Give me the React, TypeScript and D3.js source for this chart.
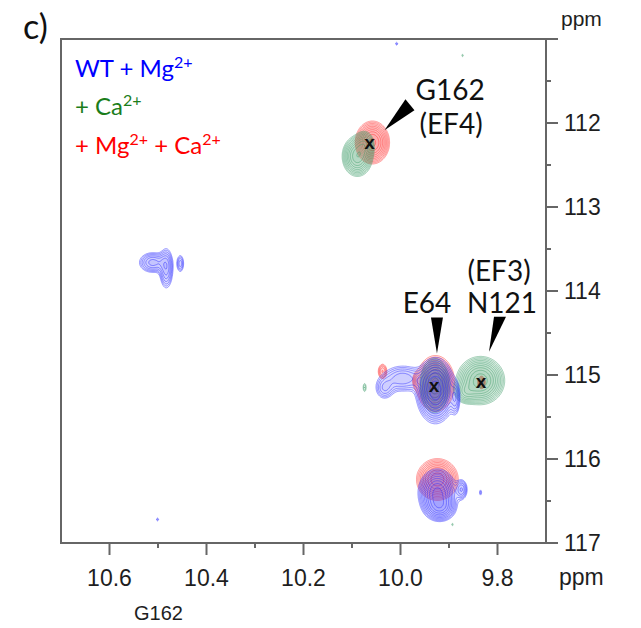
import React, { useMemo } from 'react';
import * as d3 from 'd3';

// ---- axes ----
const xDomain = [10.7, 9.7];
const yDomain = [111, 117];
const xTicks = [10.6, 10.4, 10.2, 10.0, 9.8];
const xMinorTicks = [10.5, 10.3, 10.1, 9.9];
const yTicks = [111, 112, 113, 114, 115, 116, 117];
const yTickLabels = ['', '112', '113', '114', '115', '116', '117'];
const yMinorTicks = [111.5, 112.5, 113.5, 114.5, 115.5, 116.5];

// ---- peaks: [1H ppm, 15N ppm, width 1H ppm, width 15N ppm, intensity] ----
const wtMgPeaks: number[][] = [
  [10.512, 113.655, 0.0165, 0.071, 0.35],
  [10.484, 113.726, 0.0082, 0.14, 0.35],
  [10.455, 113.667, 0.005, 0.07, 0.22],
  [9.929, 115.18, 0.0186, 0.18, 1.0],
  [9.997, 115.036, 0.025, 0.095, 0.3],
  [10.034, 115.155, 0.012, 0.083, 0.22],
  [9.888, 115.27, 0.006, 0.12, 0.25],
  [9.925, 116.393, 0.0186, 0.131, 0.9],
  [9.919, 116.571, 0.0165, 0.083, 0.5],
  [9.875, 116.357, 0.0072, 0.071, 0.3],
  [9.836, 116.393, 0.0025, 0.036, 0.13],
  [10.502, 116.714, 0.0025, 0.02, 0.13],
  [10.009, 111.05, 0.0025, 0.02, 0.13],
];
const caPeaks: number[][] = [
  [10.09, 112.39, 0.015, 0.115, 0.8],
  [10.075, 112.25, 0.0103, 0.085, 0.4],
  [9.836, 115.06, 0.0227, 0.131, 1.0],
  [9.867, 115.2, 0.0124, 0.071, 0.3],
  [9.931, 115.119, 0.0144, 0.155, 0.8],
  [10.075, 115.143, 0.003, 0.048, 0.15],
  [9.873, 111.19, 0.0022, 0.02, 0.12],
  [9.894, 116.774, 0.0022, 0.02, 0.12],
];
const mgCaPeaks: number[][] = [
  [10.059, 112.226, 0.0165, 0.119, 0.9],
  [9.929, 115.095, 0.0186, 0.155, 0.9],
  [10.038, 114.952, 0.0062, 0.06, 0.25],
  [9.966, 115.06, 0.0062, 0.06, 0.2],
  [9.834, 115.083, 0.005, 0.048, 0.3],
  [9.925, 116.238, 0.0206, 0.119, 0.8],
];

const seriesColors = ['#2a2aff', '#3c9a68', '#ff3030'];
const legendColors = ['#0000ff', '#1b7d1b', '#ff0000'];

// ---- assignments ----
const assignNames = ['G162', 'E64', 'N121'];
const assignSub = ['(EF4)', '', '(EF3)'];
const assignX = [10.064, 9.931, 9.834];
const assignY = [112.24, 115.125, 115.08];

const levels = d3.range(0, 10).map((k) => 0.09 * Math.pow(1.28, k));

const W = 641, H = 628;
const L = 61, R = 546, T = 39, B = 543;

function buildField(peaks: number[][], xs: any, ys: any, n: number, m: number) {
  const vals = new Float64Array(n * m);
  for (const [x0, y0, sx, sy, a] of peaks) {
    const cx = xs(x0), cy = ys(y0);
    const sxp = Math.abs(xs(x0 + sx) - cx);
    const syp = Math.abs(ys(y0 + sy) - cy);
    const i0 = Math.max(0, Math.floor(cx - 5 * sxp - L));
    const i1 = Math.min(n - 1, Math.ceil(cx + 5 * sxp - L));
    const j0 = Math.max(0, Math.floor(cy - 5 * syp - T));
    const j1 = Math.min(m - 1, Math.ceil(cy + 5 * syp - T));
    for (let j = j0; j <= j1; j++) {
      const dy = (T + j - cy) / syp;
      for (let i = i0; i <= i1; i++) {
        const dx = (L + i - cx) / sxp;
        vals[j * n + i] += a * Math.exp(-0.5 * (dx * dx + dy * dy));
      }
    }
  }
  return vals;
}

export default function App() {
  const xs = d3.scaleLinear().domain(xDomain).range([L, R]);
  const ys = d3.scaleLinear().domain(yDomain).range([T, B]);

  const contourSets = useMemo(() => {
    const n = R - L + 1, m = B - T + 1;
    const path = d3.geoPath(d3.geoIdentity().translate([L, T]) as any);
    return [wtMgPeaks, caPeaks, mgCaPeaks].map((p) => {
      const vals = buildField(p, xs, ys, n, m);
      const cs = d3.contours().size([n, m]).thresholds(levels)(Array.from(vals));
      return cs.map((c) => path(c as any) || '');
    });
  }, []);

  const drawOrder = [2, 1, 0];
  const font = 'Lato, "Open Sans", sans-serif';
  const axisFont = '"Liberation Sans", Arial, sans-serif';
  const axisColor = '#666';
  const labelColor = '#1e1e1e';
  const supSize = 16;
  const supShift = 9;

  const g = [xs(assignX[0]), ys(assignY[0])];
  const e = [xs(assignX[1]), ys(assignY[1])];
  const nn = [xs(assignX[2]), ys(assignY[2])];

  return (
    <svg width={W} height={H} style={{ position: 'absolute', left: 0, top: 0, background: '#fff' }}>
      <defs>
        <clipPath id="plot">
          <rect x={L} y={T} width={R - L} height={B - T} />
        </clipPath>
        <filter id="soft" x="-5%" y="-5%" width="110%" height="110%">
          <feGaussianBlur stdDeviation="0.45" />
        </filter>
      </defs>
      <rect x={0} y={0} width={W} height={H} fill="#fff" />

      {/* contours */}
      <g clipPath="url(#plot)" filter="url(#soft)">
        {drawOrder.map((si) => (
          <g key={si}>
            {contourSets[si].map((d, k) => (
              <path key={k} d={d} fill={seriesColors[si]} fillOpacity={0.05}
                stroke={seriesColors[si]} strokeOpacity={0.6} strokeWidth={0.8} />
            ))}
          </g>
        ))}
      </g>

      {/* frame */}
      <g stroke={axisColor} strokeWidth={2} fill="none">
        <line x1={L} y1={T} x2={L} y2={B + 1} />
        <line x1={L - 1} y1={B} x2={R} y2={B} />
        <line x1={L - 1} y1={T} x2={R} y2={T} />
        <line x1={R} y1={T} x2={R} y2={B} />
        {yTicks.map((t) => (
          <line key={'y' + t} x1={R} x2={R + 12} y1={ys(t)} y2={ys(t)} />
        ))}
        {yMinorTicks.map((t) => (
          <line key={'ym' + t} x1={R} x2={R + 5} y1={ys(t)} y2={ys(t)} />
        ))}
        {xTicks.map((t) => (
          <line key={'x' + t} x1={xs(t)} x2={xs(t)} y1={B} y2={B + 12} />
        ))}
        {xMinorTicks.map((t) => (
          <line key={'xm' + t} x1={xs(t)} x2={xs(t)} y1={B} y2={B + 5} />
        ))}
      </g>

      {/* tick labels */}
      <g fontFamily={axisFont} fontSize={23} fill={labelColor}>
        {yTicks.map((t, i) => (
          yTickLabels[i] ? <text key={'yl' + t} x={R + 18} y={ys(t) + 8}>{yTickLabels[i]}</text> : null
        ))}
        {xTicks.map((t) => (
          <text key={'xl' + t} x={xs(t)} y={586} textAnchor="middle">{t.toFixed(1)}</text>
        ))}
        <text x={559} y={585}>ppm</text>
        <text x={561} y={26} fontSize={21}>ppm</text>
        <text x={134} y={620} fontSize={20}>G162</text>
      </g>

      {/* panel label */}
      <text x={23} y={39} fontFamily={font} fontSize={34} fill="#111">c)</text>

      {/* legend */}
      <g fontFamily={font} fontSize={24} style={{ whiteSpace: 'pre' }}>
        <text x={75} y={77} fill={legendColors[0]}>
          <tspan>WT + Mg</tspan>
          <tspan dy={-supShift} fontSize={supSize}>2+</tspan>
        </text>
        <text x={75} y={115} fill={legendColors[1]}>
          <tspan>+ Ca</tspan>
          <tspan dy={-supShift} fontSize={supSize}>2+</tspan>
        </text>
        <text x={75} y={154} fill={legendColors[2]}>
          <tspan>+ Mg</tspan>
          <tspan dy={-supShift} fontSize={supSize}>2+</tspan>
          <tspan dy={supShift}> + Ca</tspan>
          <tspan dy={-supShift} fontSize={supSize}>2+</tspan>
        </text>
      </g>

      {/* assignment crosses */}
      {assignNames.map((name, i) => (
        <text key={'xm' + name} x={xs(assignX[i])} y={ys(assignY[i]) + 6} textAnchor="middle"
          fontFamily={axisFont} fontSize={19} fontWeight={700} fill="#111">x</text>
      ))}

      {/* assignment labels */}
      <g fontFamily={font} fontSize={28} fill="#111">
        <text x={g[0] + 46} y={g[1] - 43}>{assignNames[0]}</text>
        <text x={g[0] + 50} y={g[1] - 9}>{assignSub[0]}</text>
        <polygon points={`${g[0] + 15},${g[1] - 13} ${g[0] + 36},${g[1] - 44} ${g[0] + 45},${g[1] - 33}`} fill="#000" />
        <text x={e[0] - 7} y={e[1] - 73} textAnchor="middle">{assignNames[1]}</text>
        <polygon points={`${e[0] + 3},${e[1] - 32} ${e[0] - 3},${e[1] - 68} ${e[0] + 9},${e[1] - 68}`} fill="#000" />
        <text x={nn[0] + 21} y={nn[1] - 69} textAnchor="middle">{assignNames[2]}</text>
        <text x={nn[0] + 18} y={nn[1] - 101} textAnchor="middle">{assignSub[2]}</text>
        <polygon points={`${nn[0] + 8},${nn[1] - 30} ${nn[0] + 13},${nn[1] - 65} ${nn[0] + 25},${nn[1] - 65}`} fill="#000" />
      </g>
    </svg>
  );
}
